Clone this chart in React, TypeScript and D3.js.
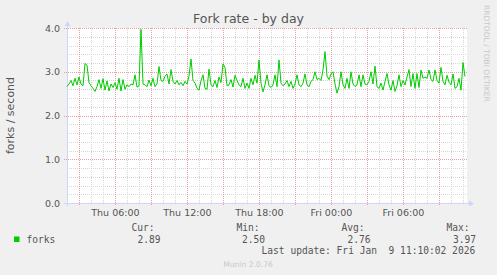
import React from "react";
import * as d3 from "d3";

// ---- data ----
const title = "Fork rate - by day";
const yLabel = "forks / second";
const seriesName = "forks";
const startTime = Date.UTC(2026, 0, 8, 1, 58, 0); // Thu 01:58
const endTime = startTime + 120000 * 1000; // 33h20m window
const stepSeconds = 600;
const forkValues = [
  2.66, 2.72, 2.80, 2.68, 2.85, 2.70, 2.88, 2.72, 2.68, 3.19,
  3.15, 2.75, 2.68, 2.62, 2.55, 2.66, 2.82, 2.62, 2.84, 2.58,
  2.79, 2.56, 2.72, 2.64, 2.75, 2.60, 2.85, 2.56, 2.82, 2.60,
  2.70, 2.66, 2.72, 2.70, 2.93, 2.65, 2.68, 3.97, 2.72, 2.70,
  2.66, 2.81, 2.68, 2.85, 2.66, 2.72, 3.12, 2.80, 2.78, 2.90,
  2.95, 2.72, 3.05, 2.78, 2.72, 2.80, 2.70, 2.76, 2.68, 2.78,
  2.72, 2.90, 3.29, 2.80, 2.74, 2.62, 2.58, 2.80, 2.93, 2.62,
  2.60, 3.06, 2.70, 2.66, 2.80, 2.64, 2.88, 2.75, 3.18, 3.10,
  2.68, 2.70, 2.82, 2.65, 2.92, 2.80, 2.70, 2.66, 2.85, 2.62,
  2.74, 2.62, 2.85, 2.70, 2.92, 2.74, 3.27, 2.74, 2.54, 2.70,
  2.93, 2.68, 2.64, 2.70, 2.93, 2.66, 3.27, 2.74, 2.68, 2.72,
  2.80, 2.66, 2.78, 2.62, 2.72, 2.93, 2.70, 2.66, 2.74, 2.95,
  2.70, 2.66, 2.78, 2.82, 3.00, 2.82, 2.85, 2.80, 3.04, 3.46,
  2.90, 2.82, 2.95, 3.00, 2.72, 2.51, 2.66, 3.00, 2.70, 2.62,
  2.85, 2.62, 3.00, 2.72, 2.66, 2.70, 2.93, 2.66, 2.93, 2.72,
  2.70, 2.78, 3.00, 2.72, 3.13, 2.66, 2.62, 2.74, 2.58, 2.78,
  2.96, 2.70, 2.58, 2.80, 2.55, 2.68, 2.93, 2.66, 2.80, 2.70,
  2.88, 3.05, 2.66, 2.96, 2.62, 2.96, 2.64, 3.04, 2.85, 2.88,
  2.85, 3.04, 2.82, 2.78, 3.04, 2.80, 2.74, 3.10, 2.78, 2.70,
  2.92, 2.76, 2.70, 2.95, 2.62, 2.66, 2.85, 2.58, 3.21, 2.89,
];
const yTicks = [0, 1, 2, 3, 4];
const legendHeads = ["Cur:", "Min:", "Avg:", "Max:"];
const legendValues = ["2.89", "2.50", "2.76", "3.97"];
const lastUpdate = "Last update: Fri Jan  9 11:10:02 2026";
const footer = "Munin 2.0.76";
const watermark = "RRDTOOL / TOBI OETIKER";

const W = 497;
const H = 275;
const PL = 67, PR = 467, PT = 28, PB = 203;

export default function App() {
  const x = d3.scaleUtc().domain([new Date(startTime), new Date(endTime)]).range([PL, PR]);
  const y = d3.scaleLinear().domain([0, 4]).range([PB, PT]);
  const pts = forkValues.map((v, i) => ({ t: new Date(startTime + i * stepSeconds * 1000), v }));
  const line = d3.line<{ t: Date; v: number }>().x((d) => x(d.t)).y((d) => y(d.v));

  const hours = d3.utcHour.every(1)!.range(new Date(startTime), new Date(endTime));
  const minorX = hours.filter((h) => h.getUTCHours() % 3 !== 0);
  const majorX = hours.filter((h) => h.getUTCHours() % 3 === 0);
  const labelX = hours.filter((h) => h.getUTCHours() % 6 === 0);
  const fmt = d3.utcFormat("%a %H:%M");
  const minorY = d3.range(0, 4.0001, 0.2).filter((v) => Math.abs(v - Math.round(v)) > 0.01);

  const sans = "'DejaVu Sans', sans-serif";
  const mono = "'DejaVu Sans Mono', monospace";
  const txt = "#555";
  const legendX = [131.5, 236.5, 341.5, 446.5];
  const valX = [137.5, 242, 347.5, 453];

  return (
    <svg width={W} height={H} style={{ position: "absolute", left: 0, top: 0 }}>
      <rect x={0} y={0} width={W} height={H} fill="#f0f0f0" />
      <rect x={PL} y={PT} width={PR - PL} height={PB - PT} fill="#ffffff" />
      {/* minor grid */}
      {minorX.map((h, i) => (
        <line key={"mx" + i} x1={Math.round(x(h)) + 0.5} x2={Math.round(x(h)) + 0.5} y1={PT} y2={PB}
          stroke="#d6d6d6" strokeWidth={1} strokeDasharray="1,1" />
      ))}
      {minorY.map((v, i) => (
        <line key={"my" + i} x1={PL} x2={PR} y1={Math.round(y(v)) + 0.5} y2={Math.round(y(v)) + 0.5}
          stroke="#d6d6d6" strokeWidth={1} strokeDasharray="1,1" />
      ))}
      {/* major grid */}
      {majorX.map((h, i) => (
        <line key={"Mx" + i} x1={Math.round(x(h)) + 0.5} x2={Math.round(x(h)) + 0.5} y1={PT} y2={PB + 3}
          stroke="#e8a0a0" strokeWidth={1} strokeDasharray="1,1" />
      ))}
      {yTicks.map((v, i) => (
        <line key={"My" + i} x1={PL - 3} x2={PR} y1={Math.round(y(v)) + 0.5} y2={Math.round(y(v)) + 0.5}
          stroke="#e8a0a0" strokeWidth={1} strokeDasharray="1,1" />
      ))}
      {/* axes */}
      <line x1={PL - 3} x2={PR + 3} y1={PB + 0.5} y2={PB + 0.5} stroke="#cfd6f8" strokeWidth={1} />
      <line x1={PL + 0.5} x2={PL + 0.5} y1={PB + 3} y2={PT - 4} stroke="#cfd6f8" strokeWidth={1} />
      <path d={`M${PR + 2},${PB - 2.5} L${PR + 7},${PB + 0.5} L${PR + 2},${PB + 3.5} Z`} fill="#cfd6f8" />
      <path d={`M${PL - 2.5},${PT - 2} L${PL + 0.5},${PT - 7} L${PL + 3.5},${PT - 2} Z`} fill="#cfd6f8" />
      {/* data */}
      <path d={line(pts) || ""} fill="none" stroke="#00cc00" strokeWidth={1} />
      {/* y tick labels */}
      {yTicks.map((v, i) => (
        <text key={"yt" + i} x={60} y={y(v) + 3.5} textAnchor="end" fontFamily={sans} fontSize={9.5} fill={txt}>
          {v.toFixed(1)}
        </text>
      ))}
      {/* x tick labels */}
      {labelX.map((h, i) => (
        <text key={"xt" + i} x={x(h)} y={216} textAnchor="middle" fontFamily={sans} fontSize={9.5} fill={txt}>
          {fmt(h)}
        </text>
      ))}
      {/* title */}
      <text x={248.5} y={23} textAnchor="middle" fontFamily={sans} fontSize={12.5} fill={txt}>{title}</text>
      {/* y axis label */}
      <text transform="translate(14,115.5) rotate(-90)" textAnchor="middle" fontFamily={sans} fontSize={11} fill={txt}>
        {yLabel}
      </text>
      {/* watermark */}
      <text transform="translate(484,5) rotate(90)" textAnchor="start" fontFamily={sans} fontSize={7.5} fill="#c8c8c8">
        {watermark}
      </text>
      {/* legend */}
      <rect x={14} y={236.5} width={5.5} height={5.5} fill="#00cc00" />
      <text x={26.5} y={242.7} fontFamily={mono} fontSize={9.6} fill={txt}>{seriesName}</text>
      {legendHeads.map((s, i) => (
        <text key={"lh" + i} x={legendX[i]} y={231} fontFamily={mono} fontSize={9.6} fill={txt}>{s}</text>
      ))}
      {legendValues.map((s, i) => (
        <text key={"lv" + i} x={valX[i]} y={242.7} fontFamily={mono} fontSize={9.6} fill={txt}>{s}</text>
      ))}
      <text x={261.5} y={254.3} fontFamily={mono} fontSize={9.6} fill={txt} style={{ whiteSpace: "pre" }}>
        {lastUpdate}
      </text>
      <text x={248} y={266.7} textAnchor="middle" fontFamily={sans} fontSize={7.6} fill="#c8c8c8">{footer}</text>
    </svg>
  );
}
